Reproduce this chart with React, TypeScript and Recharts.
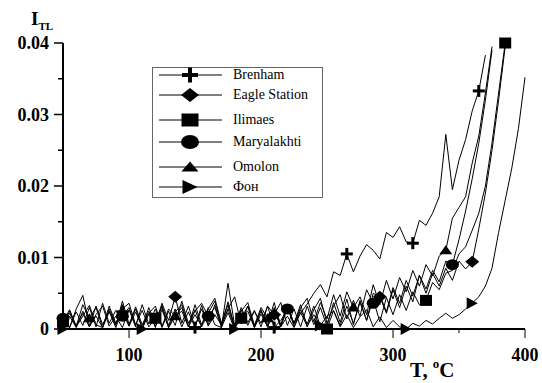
import React from 'react';
import { LineChart, Line, XAxis, YAxis } from 'recharts';

const temps = [
  50, 55, 60, 65, 70, 75, 80, 85, 90, 95,
  100, 105, 110, 115, 120, 125, 130, 135, 140, 145,
  150, 155, 160, 165, 170, 175, 180, 185, 190, 195,
  200, 205, 210, 215, 220, 225, 230, 235, 240, 245,
  250, 255, 260, 265, 270, 275, 280, 285, 290, 295,
  300, 305, 310, 315, 320, 325, 330, 335, 340, 345,
  350, 355, 360, 365, 370, 375, 380, 385, 390, 395,
  400,
];

const brenham = [
  0.0015, 0.0002, 0.0028, 0.0047, 0.0005, 0.0018, 0.0002, 0.0032, 0.0008, 0.0024,
  0.0004, 0.0031, 0.0006, 0.0025, 0.0002, 0.0033, 0.0005, 0.0028, 0.0003, 0.0024,
  0.0002, 0.0033, 0.0004, 0.002, 0.0006, 0.0038, 0.0003, 0.0027, 0.0005, 0.0025,
  0.0008, 0.0032, 0.0002, 0.0012, 0.0028, 0.0009, 0.0022, 0.0035, 0.005, 0.0062,
  0.0045, 0.008, 0.0075, 0.0105, 0.008, 0.0102, 0.0118, 0.011, 0.0098, 0.0135,
  0.0128, 0.0143, 0.0122, 0.012, 0.0152, 0.0145, 0.0162, 0.0185, 0.0272, 0.0195,
  0.0236, 0.0265, 0.0305, 0.0333, 0.0383,
];

const eagleStation = [
  0.0005, 0.0025, 0.0003, 0.0018, 0.0033, 0.0006, 0.0002, 0.0028, 0.0006, 0.0034,
  0.0004, 0.0024, 0.0002, 0.003, 0.0007, 0.0036, 0.0012, 0.0045, 0.0008, 0.0032,
  0.0003, 0.0028, 0.0006, 0.0034, 0.0002, 0.0064, 0.0005, 0.003, 0.0009, 0.0026,
  0.0003, 0.0032, 0.002, 0.0037, 0.0005, 0.0028, 0.0003, 0.0032, 0.0006, 0.003,
  0.0004, 0.0037, 0.0009, 0.0042, 0.0006, 0.004, 0.0012, 0.005, 0.0045, 0.0022,
  0.0055, 0.003, 0.006, 0.0038, 0.0075, 0.005, 0.0078, 0.006, 0.0085, 0.0068,
  0.0095, 0.0084, 0.0094, 0.014, 0.019, 0.025, 0.032, 0.0395,
];

const ilimaes = [
  0.001, 0.0027, 0.0004, 0.0022, 0.0003, 0.0032, 0.0006, 0.0025, 0.0002, 0.0028,
  0.0036, 0.0006, 0.0026, 0.0003, 0.0015, 0.003, 0.0002, 0.0024, 0.0034, 0.0004,
  0.0027, 0.0003, 0.0022, 0.0039, 0.0006, 0.0028, 0.0002, 0.0015, 0.0032, 0.0005,
  0.0025, 0.0002, 0.003, 0.0006, 0.0034, 0.0003, 0.0027, 0.0007, 0.0032, 0.0004,
  0.0, 0.0026, 0.0005, 0.0032, 0.0008, 0.0037, 0.0012, 0.0042, 0.001, 0.0044,
  0.002, 0.0048, 0.0026, 0.0052, 0.0034, 0.004, 0.0065, 0.0055, 0.0078, 0.0082,
  0.0105, 0.0115, 0.0138, 0.0162, 0.02, 0.026, 0.033, 0.04,
];

const maryalakhti = [
  0.0015, 0.0002, 0.0024, 0.0005, 0.003, 0.0003, 0.0036, 0.0008, 0.0026, 0.0018,
  0.003, 0.0004, 0.0034, 0.0007, 0.0028, 0.0002, 0.0025, 0.0005, 0.0039, 0.0008,
  0.0025, 0.0036, 0.0018, 0.003, 0.0004, 0.0028, 0.0045, 0.0007, 0.0032, 0.0002,
  0.0027, 0.0006, 0.0037, 0.0004, 0.0028, 0.0008, 0.0034, 0.0003, 0.0027, 0.0043,
  0.0008, 0.0032, 0.0048, 0.0014, 0.004, 0.0018, 0.0055, 0.0036, 0.0048, 0.0024,
  0.0058, 0.0036, 0.0068, 0.0046, 0.0075, 0.0056, 0.0082, 0.0066, 0.0095, 0.009,
  0.0125, 0.0165, 0.021, 0.026, 0.032, 0.039,
];

const omolon = [
  0.0003, 0.0022, 0.0004, 0.0034, 0.0015, 0.003, 0.0002, 0.0024, 0.0005, 0.0039,
  0.0007, 0.0028, 0.0002, 0.0022, 0.0032, 0.0004, 0.0028, 0.0018, 0.003, 0.0003,
  0.0034, 0.0006, 0.0028, 0.0043, 0.0008, 0.0034, 0.0003, 0.0025, 0.0037, 0.0005,
  0.003, 0.0015, 0.0027, 0.0003, 0.0034, 0.0007, 0.003, 0.0043, 0.001, 0.0037,
  0.0014, 0.0048, 0.0018, 0.0052, 0.003, 0.0045, 0.002, 0.0062, 0.0034, 0.0068,
  0.0042, 0.0072, 0.0052, 0.0082, 0.006, 0.009, 0.0074, 0.0102, 0.011, 0.0155,
  0.017, 0.0185, 0.0232, 0.027, 0.033, 0.0395,
];

const fon = [
  0.0, 0.0018, 0.0002, 0.0025, 0.0003, 0.002, 0.0032, 0.0004, 0.0018, 0.0002,
  0.0027, 0.0003, 0.0, 0.0021, 0.0004, 0.0027, 0.0002, 0.0018, 0.0025, 0.0003,
  0.002, 0.0004, 0.003, 0.0006, 0.0002, 0.0023, 0.0, 0.0018, 0.0025, 0.0002,
  0.0021, 0.0004, 0.0027, 0.0003, 0.0018, 0.0002, 0.0023, 0.0004, 0.002, 0.0005,
  0.0018, 0.0025, 0.0003, 0.002, 0.0002, 0.0017, 0.0027, 0.0003, 0.0017, 0.0002,
  0.0012, 0.0003, 0.0, 0.0008, 0.0004, 0.0012, 0.0007, 0.0015, 0.0022, 0.0015,
  0.002, 0.0028, 0.0036, 0.0045, 0.006, 0.0085, 0.0135, 0.018, 0.0225, 0.028,
  0.0352,
];

const brenhamMarks = [95, 150, 210, 265, 315, 365];
const eagleMarks = [135, 210, 290, 360];
const ilimaesMarks = [50, 120, 185, 250, 325, 385];
const maryalakhtiMarks = [50, 95, 160, 220, 285, 345];
const omolonMarks = [70, 135, 205, 270, 340];
const fonMarks = [50, 110, 180, 245, 310, 360];

const seriesNames = ['Brenham', 'Eagle Station', 'Ilimaes', 'Maryalakhti', 'Omolon', 'Фон'];
const seriesKeys = ['brenham', 'eagle', 'ilimaes', 'mary', 'omolon', 'fon'];
const seriesShapes = ['plus', 'diamond', 'square', 'circle', 'triangle', 'right'];
const seriesValues = [brenham, eagleStation, ilimaes, maryalakhti, omolon, fon];
const seriesMarks = [brenhamMarks, eagleMarks, ilimaesMarks, maryalakhtiMarks, omolonMarks, fonMarks];

const xTicks = [100, 150, 200, 250, 300, 350, 400];
const xMajor = [100, 200, 300, 400];
const yTicks = [0, 0.005, 0.01, 0.015, 0.02, 0.025, 0.03, 0.035, 0.04];
const yMajor = [0, 0.01, 0.02, 0.03, 0.04];
const yLabels: Record<string, string> = { '0': '0', '0.01': '0.01', '0.02': '0.02', '0.03': '0.03', '0.04': '0.04' };

const data = temps.map((t, i) => {
  const row: Record<string, number | null> = { t };
  seriesKeys.forEach((k, j) => {
    const v = seriesValues[j][i];
    row[k] = v === undefined ? null : v;
  });
  return row;
});

const FONT = '"Liberation Serif", "Times New Roman", serif';

function Marker({ shape, cx, cy, w, h }: { shape: string; cx: number; cy: number; w: number; h: number }) {
  const hw = w / 2;
  const hh = h / 2;
  switch (shape) {
    case 'plus': {
      const th = Math.max(3, w / 4);
      return (
        <g>
          <rect x={cx - hw} y={cy - th / 2} width={w} height={th} fill="#000" />
          <rect x={cx - th / 2} y={cy - hh} width={th} height={h} fill="#000" />
        </g>
      );
    }
    case 'diamond':
      return <polygon points={`${cx - hw},${cy} ${cx},${cy - hh} ${cx + hw},${cy} ${cx},${cy + hh}`} fill="#000" />;
    case 'square':
      return <rect x={cx - hw} y={cy - hh} width={w} height={h} fill="#000" />;
    case 'circle':
      return <ellipse cx={cx} cy={cy} rx={hw} ry={hh} fill="#000" />;
    case 'triangle':
      return <polygon points={`${cx - hw},${cy + hh * 0.8} ${cx + hw},${cy + hh * 0.8} ${cx},${cy - hh}`} fill="#000" />;
    case 'right':
      return <polygon points={`${cx - hw},${cy - hh} ${cx - hw},${cy + hh} ${cx + hw},${cy}`} fill="#000" />;
    default:
      return <g />;
  }
}

const chartMarkerSize: Record<string, [number, number]> = {
  plus: [12, 12],
  diamond: [14, 12],
  square: [12, 11],
  circle: [13, 11],
  triangle: [13, 10],
  right: [11, 12],
};

const legendMarkerSize: Record<string, [number, number]> = {
  plus: [16, 15],
  diamond: [18, 14],
  square: [17, 13],
  circle: [18, 14],
  triangle: [17, 11],
  right: [15, 14],
};

function makeDot(shape: string, marks: number[]) {
  return (props: any) => {
    const { cx, cy, payload, index } = props;
    if (cx == null || cy == null || !payload || !marks.includes(payload.t)) {
      return <g key={`n-${shape}-${index}`} />;
    }
    const [w, h] = chartMarkerSize[shape];
    return (
      <g key={`m-${shape}-${index}`}>
        <Marker shape={shape} cx={cx} cy={cy} w={w} h={h} />
      </g>
    );
  };
}

function XTick(props: any) {
  const { x, y, payload } = props;
  const major = xMajor.includes(payload.value);
  return (
    <g>
      <line x1={x} y1={y} x2={x} y2={y + (major ? 9 : 4)} stroke="#000" strokeWidth={1} />
      {major && (
        <text x={x} y={y + 32} textAnchor="middle" fontFamily={FONT} fontWeight="bold" fontSize={18} fill="#000">
          {payload.value}
        </text>
      )}
    </g>
  );
}

function YTick(props: any) {
  const { x, y, payload } = props;
  const major = yMajor.some((m) => Math.abs(m - payload.value) < 1e-9);
  const label = yLabels[String(payload.value)];
  return (
    <g>
      <line x1={x - (major ? 9 : 5)} y1={y} x2={x} y2={y} stroke="#000" strokeWidth={1.5} />
      {major && (
        <text x={x - 14} y={y + 6} textAnchor="end" fontFamily={FONT} fontWeight="bold" fontSize={18} fill="#000">
          {label}
        </text>
      )}
    </g>
  );
}

const legendRows = [8, 28, 53, 75, 100, 120];

export default function App() {
  return (
    <div style={{ position: 'absolute', left: 0, top: 0, width: 542, height: 383, background: '#fff' }}>
      <LineChart
        width={542}
        height={383}
        data={data}
        margin={{ top: 43, right: 17, bottom: 24, left: 8 }}
      >
        <XAxis
          dataKey="t"
          type="number"
          domain={[50, 400]}
          ticks={xTicks}
          tick={<XTick />}
          tickLine={false}
          tickSize={0}
          tickMargin={0}
          height={30}
          axisLine={{ stroke: '#000', strokeWidth: 2 }}
          allowDecimals
        />
        <YAxis
          type="number"
          domain={[0, 0.04]}
          ticks={yTicks}
          tick={<YTick />}
          tickLine={false}
          tickSize={0}
          tickMargin={0}
          width={55}
          axisLine={{ stroke: '#000', strokeWidth: 2 }}
        />
        {seriesKeys.map((k, j) => (
          <Line
            key={k}
            type="linear"
            dataKey={k}
            name={seriesNames[j]}
            stroke="#000"
            strokeWidth={1}
            dot={makeDot(seriesShapes[j], seriesMarks[j])}
            activeDot={false}
            connectNulls={false}
            isAnimationActive={false}
          />
        ))}
      </LineChart>
      <svg
        width={542}
        height={383}
        style={{ position: 'absolute', left: 0, top: 0, pointerEvents: 'none' }}
      >
        <text x={31} y={25} fontFamily={FONT} fontWeight="bold" fontSize={19} fill="#000">
          I
          <tspan fontSize={11} dy={5}>TL</tspan>
        </text>
        <text x={410} y={377} fontFamily={FONT} fontWeight="bold" fontSize={21} fill="#000">
          T,
          <tspan dx={5} dy={-9} fontSize={13}>o</tspan>
          <tspan dy={9}>C</tspan>
        </text>
        <g transform="translate(152,67)">
          <rect x={0.5} y={0.5} width={170} height={130} fill="#fff" stroke="#666" strokeWidth={1} />
          {seriesNames.map((name, j) => {
            const y = legendRows[j];
            const [w, h] = legendMarkerSize[seriesShapes[j]];
            return (
              <g key={name}>
                <line x1={7} y1={y} x2={70} y2={y} stroke="#000" strokeWidth={1} />
                <Marker shape={seriesShapes[j]} cx={38} cy={y} w={w} h={h} />
                <text x={81} y={y + 4} fontFamily={FONT} fontSize={14} fill="#000">
                  {name}
                </text>
              </g>
            );
          })}
        </g>
      </svg>
    </div>
  );
}
